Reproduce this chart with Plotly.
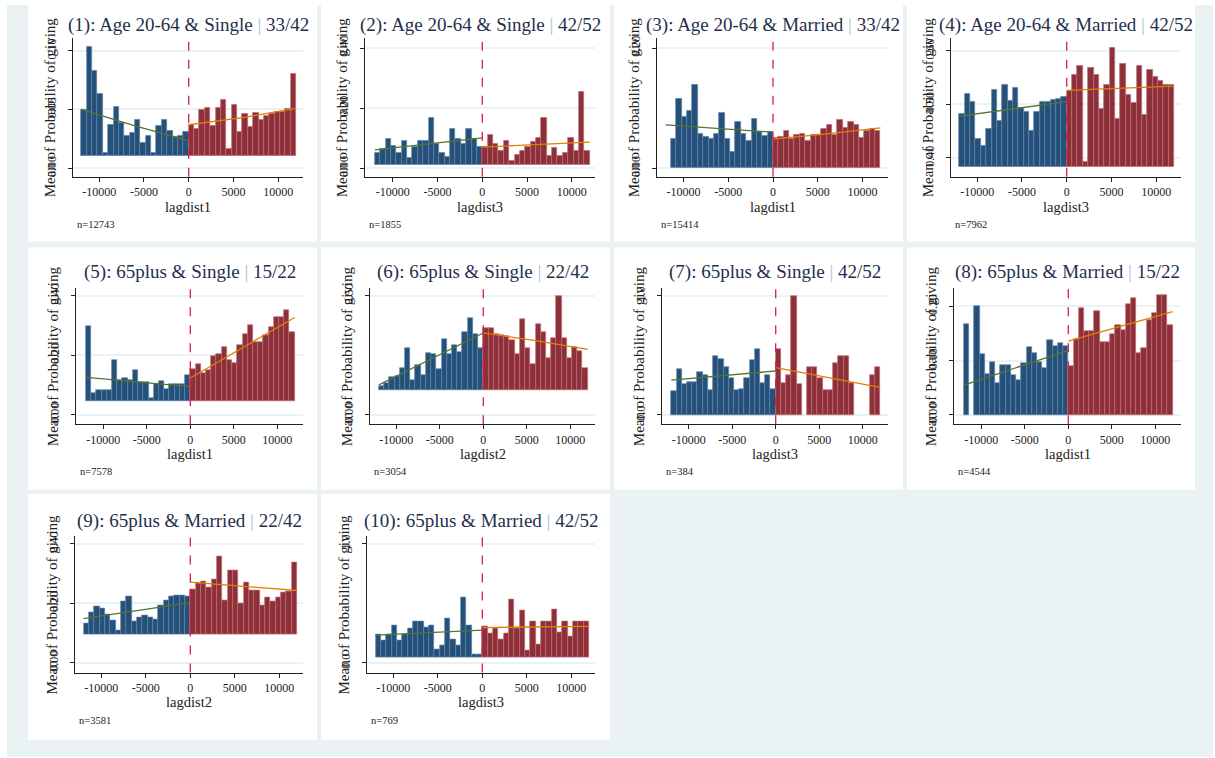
import numpy as np
import plotly.graph_objects as go

W, H = 1215, 758

# ---------------- data ----------------
bin_edges = np.arange(-12000, 12001, 600)
bin_centers = (bin_edges[:-1] + bin_edges[1:]) / 2
left_x = bin_centers[bin_centers < 0]
right_x = bin_centers[bin_centers > 0]
fit_x_left = [-12000, -6000, 0]
fit_x_right = [0, 6000, 12000]
x_tick_vals = [-10000, -5000, 0, 5000, 10000]
x_tick_text = ["-10000", "-5000", "0", "5000", "10000"]

titles = ["(1): Age 20-64 & Single", "(2): Age 20-64 & Single", "(3): Age 20-64 & Married",
          "(4): Age 20-64 & Married", "(5): 65plus & Single", "(6): 65plus & Single",
          "(7): 65plus & Single", "(8): 65plus & Married", "(9): 65plus & Married",
          "(10): 65plus & Married"]
title_suffix = ["33/42", "42/52", "33/42", "42/52", "15/22", "22/42", "42/52", "15/22", "22/42", "42/52"]
xvars = ["lagdist1", "lagdist3", "lagdist1", "lagdist3", "lagdist1", "lagdist2", "lagdist3",
         "lagdist1", "lagdist2", "lagdist3"]
n_obs = ["n=12743", "n=1855", "n=15414", "n=7962", "n=7578", "n=3054", "n=384", "n=4544",
         "n=3581", "n=769"]
ytick_vals = [[0, 0.05, 0.10], [0, 0.2, 0.4], [0, 0.2], [0.4, 0.5, 0.6], [0, 0.2, 0.4],
              [0, 0.5], [0, 1.0], [0, 0.1, 0.2], [0, 0.2, 0.4], [0, 1.0]]
ytick_text = [["0.00", "0.05", "0.10"], ["0.00", "0.20", "0.40"], ["0.00", "0.20"],
              ["0.40", "0.50", "0.60"], ["0.00", "0.20", "0.40"], ["0.00", "0.50"],
              ["0.0", "1.0"], ["0.00", "0.10", "0.20"], ["0.00", "0.20", "0.40"], ["0.0", "1.0"]]
bar_base = [0.0107, 0.012, 0.0, 0.383, 0.045, 0.104, 0.0, 0.0, 0.097, 0.047]

p1_left = [0.050, 0.103, 0.083, 0.063, 0.013, 0.037, 0.052, 0.039, 0.028, 0.030,
           0.041, 0.022, 0.028, 0.013, 0.036, 0.041, 0.032, 0.027, 0.028, 0.031]
p1_right = [0.037, 0.0335, 0.050, 0.0515, 0.036, 0.0515, 0.058, 0.0166, 0.054, 0.031,
            0.046, 0.035, 0.047, 0.041, 0.045, 0.046, 0.0476, 0.048, 0.051, 0.080]
p2_left = [0.050, 0.064, 0.097, 0.076, 0.050, 0.092, 0.034, 0.072, 0.092, 0.092,
           0.168, 0.081, 0.050, 0.039, 0.131, 0.098, 0.081, 0.131, 0.098, 0.070]
p2_right = [0.072, 0.111, 0.081, 0.059, 0.092, 0.026, 0.046, 0.059, 0.072, 0.087,
            0.101, 0.168, 0.042, 0.068, 0.042, 0.053, 0.101, 0.059, 0.253, 0.057]
p3_left = [0.0, 0.0485, 0.116, 0.085, 0.095, 0.138, 0.058, 0.053, 0.0485, 0.058,
           0.093, 0.0485, 0.028, 0.078, 0.058, 0.046, 0.083, 0.060, 0.054, 0.060]
p3_right = [0.050, 0.052, 0.062, 0.0485, 0.056, 0.057, 0.046, 0.056, 0.056, 0.065,
            0.073, 0.055, 0.080, 0.068, 0.078, 0.072, 0.050, 0.062, 0.065, 0.062]
p4_left = [0.483, 0.520, 0.505, 0.435, 0.423, 0.454, 0.528, 0.470, 0.536, 0.507,
           0.531, 0.494, 0.486, 0.451, 0.486, 0.505, 0.505, 0.509, 0.511, 0.514]
p4_right = [0.526, 0.556, 0.572, 0.392, 0.568, 0.556, 0.491, 0.536, 0.606, 0.474,
            0.575, 0.517, 0.502, 0.572, 0.480, 0.564, 0.551, 0.543, 0.537, 0.536]
p5_left = [0.297, 0.074, 0.082, 0.082, 0.082, 0.184, 0.117, 0.124, 0.117, 0.149,
           0.110, 0.110, 0.057, 0.104, 0.113, 0.087, 0.104, 0.102, 0.104, 0.134]
p5_right = [0.154, 0.169, 0.140, 0.149, 0.199, 0.204, 0.227, 0.184, 0.173, 0.236,
            0.272, 0.303, 0.244, 0.246, 0.269, 0.296, 0.327, 0.327, 0.352, 0.277]
p6_left = [0.122, 0.132, 0.157, 0.164, 0.196, 0.279, 0.146, 0.210, 0.168, 0.261,
           0.254, 0.192, 0.317, 0.254, 0.293, 0.265, 0.349, 0.407, 0.338, 0.279]
p6_right = [0.363, 0.363, 0.340, 0.335, 0.331, 0.313, 0.257, 0.400, 0.282, 0.215,
            0.382, 0.349, 0.238, 0.321, 0.500, 0.321, 0.238, 0.285, 0.268, 0.196]
p7_left = [0.197, 0.383, 0.258, 0.272, 0.272, 0.356, 0.336, 0.208, 0.494, 0.472,
           0.403, 0.306, 0.208, 0.217, 0.306, 0.458, 0.550, 0.264, 0.336, 0.217]
p7_right = [0.550, 0.264, 0.336, 1.000, 0.258, 0.0, 0.403, 0.403, 0.308, 0.208,
            0.208, 0.439, 0.494, 0.494, 0.264, 0.0, 0.0, 0.0, 0.336, 0.403]
p8_left = [0.168, 0.0, 0.201, 0.112, 0.075, 0.098, 0.059, 0.092, 0.092, 0.074,
           0.065, 0.095, 0.124, 0.113, 0.098, 0.087, 0.137, 0.126, 0.133, 0.126]
p8_right = [0.090, 0.139, 0.197, 0.154, 0.154, 0.191, 0.135, 0.135, 0.148, 0.165,
            0.157, 0.204, 0.215, 0.113, 0.123, 0.174, 0.188, 0.220, 0.220, 0.165]
p9_left = [0.132, 0.169, 0.189, 0.183, 0.161, 0.141, 0.108, 0.206, 0.224, 0.139,
           0.154, 0.158, 0.154, 0.147, 0.194, 0.208, 0.224, 0.228, 0.228, 0.224]
p9_right = [0.247, 0.266, 0.274, 0.254, 0.280, 0.356, 0.210, 0.310, 0.310, 0.199,
            0.269, 0.243, 0.243, 0.194, 0.221, 0.206, 0.221, 0.236, 0.241, 0.336]
p10_left = [0.236, 0.186, 0.242, 0.311, 0.186, 0.236, 0.292, 0.347, 0.347, 0.297,
            0.311, 0.117, 0.144, 0.375, 0.200, 0.144, 0.553, 0.311, 0.067, 0.067]
p10_right = [0.303, 0.247, 0.292, 0.200, 0.247, 0.533, 0.292, 0.442, 0.108, 0.347,
             0.158, 0.347, 0.347, 0.450, 0.256, 0.347, 0.225, 0.347, 0.347, 0.347]

p1_green, p1_orange = [0.050, 0.036, 0.0235], [0.037, 0.043, 0.051]
p2_green, p2_orange = [0.061, 0.081, 0.101], [0.070, 0.078, 0.087]
p3_green, p3_orange = [0.072, 0.066, 0.060], [0.0485, 0.057, 0.067]
p4_green, p4_orange = [0.478, 0.491, 0.505], [0.526, 0.530, 0.534]
p5_green, p5_orange = [0.126, 0.110, 0.095], [0.124, 0.226, 0.327]
p6_green, p6_orange = [0.126, 0.235, 0.344], [0.344, 0.312, 0.275]
p7_green, p7_orange = [0.292, 0.330, 0.369], [0.397, 0.314, 0.231]
p8_green, p8_orange = [0.055, 0.087, 0.119], [0.136, 0.163, 0.190]
p9_green, p9_orange = [0.149, 0.175, 0.202], [0.271, 0.257, 0.243]
p10_green, p10_orange = [0.233, 0.254, 0.275], [0.297, 0.301, 0.306]

lefts = [p1_left, p2_left, p3_left, p4_left, p5_left, p6_left, p7_left, p8_left, p9_left, p10_left]
rights = [p1_right, p2_right, p3_right, p4_right, p5_right, p6_right, p7_right, p8_right, p9_right, p10_right]
greens = [p1_green, p2_green, p3_green, p4_green, p5_green, p6_green, p7_green, p8_green, p9_green, p10_green]
oranges = [p1_orange, p2_orange, p3_orange, p4_orange, p5_orange, p6_orange, p7_orange, p8_orange, p9_orange, p10_orange]

# ---------------- layout geometry (pixels) ----------------
geom = [
    dict(L=73, R=303, T=33, B=173, x0=188.7, s=89.5, tp=(164.3, 46.0), ty=20),
    dict(L=365, R=595, T=33, B=173, x0=482.3, s=89.5, tp=(164.3, 43.3), ty=20),
    dict(L=657, R=888, T=33, B=173, x0=773.0, s=89.5, tp=(164.3, 43.3), ty=20),
    dict(L=951, R=1181, T=33, B=173, x0=1066.7, s=89.5, tp=(154.0, 46.0), ty=20),
    dict(L=76, R=303, T=285, B=422, x0=190.3, s=87.0, tp=(412.7, 292.7), ty=269),
    dict(L=370, R=595, T=285, B=422, x0=483.3, s=87.0, tp=(412.7, 292.7), ty=269),
    dict(L=662, R=888, T=285, B=422, x0=775.7, s=87.0, tp=(412.7, 292.7), ty=269),
    dict(L=954, R=1181, T=285, B=422, x0=1068.3, s=87.0, tp=(412.7, 303.3), ty=269),
    dict(L=75, R=303, T=535, B=672, x0=190.3, s=89.0, tp=(662.3, 542.3), ty=519),
    dict(L=367, R=595, T=535, B=672, x0=482.3, s=89.0, tp=(662.3, 542.3), ty=519),
]
panel_boxes = [
    (28, 0, 317, 238), (321, 0, 610, 238), (614, 0, 903, 238), (907, 0, 1195, 238),
    (28, 244, 317, 488), (321, 244, 610, 488), (614, 244, 903, 488), (907, 244, 1195, 488),
    (28, 492, 317, 740), (321, 492, 610, 740),
]

BLUE, BLUE_EDGE = "#24507a", "#5d82a6"
RED, RED_EDGE = "#8e3039", "#bb6a72"
GREEN, ORANGE = "#55752f", "#e37e00"
VLINE = "#d61f4b"
BG = "#eaf2f3"
GRID = "#eaf2f3"
FONT = "Liberation Serif"
TITLE_COL = "#1f2f4e"

fig = go.Figure()
shapes = []
annotations = []
layout = {}

shapes.append(dict(type="rect", xref="paper", yref="paper", x0=7 / W, x1=1213 / W, y0=1 - 757 / H, y1=1,
                   fillcolor=BG, line=dict(width=0), layer="below"))
for (x0, y0, x1, y1) in panel_boxes:
    shapes.append(dict(type="rect", xref="paper", yref="paper", x0=x0 / W, x1=x1 / W,
                       y0=1 - y1 / H, y1=1 - y0 / H, fillcolor="white", line=dict(width=0), layer="below"))


def bar_heights(vals, base):
    v = np.array(vals, dtype=float)
    h = v - base
    h[v <= 0] = np.nan  # empty bins draw nothing
    return h


for i in range(10):
    g = geom[i]
    k = i + 1
    xa = "x" if k == 1 else f"x{k}"
    ya = "y" if k == 1 else f"y{k}"
    base = bar_base[i]
    fig.add_trace(go.Bar(x=left_x, y=bar_heights(lefts[i], base), base=base, width=600,
                         marker=dict(color=BLUE, line=dict(color=BLUE_EDGE, width=0.7)),
                         xaxis=xa, yaxis=ya, showlegend=False, hoverinfo="skip"))
    fig.add_trace(go.Bar(x=right_x, y=bar_heights(rights[i], base), base=base, width=600,
                         marker=dict(color=RED, line=dict(color=RED_EDGE, width=0.7)),
                         xaxis=xa, yaxis=ya, showlegend=False, hoverinfo="skip"))
    fig.add_trace(go.Scatter(x=fit_x_left, y=greens[i], mode="lines", line=dict(color=GREEN, width=1.3),
                             xaxis=xa, yaxis=ya, showlegend=False, hoverinfo="skip"))
    fig.add_trace(go.Scatter(x=fit_x_right, y=oranges[i], mode="lines", line=dict(color=ORANGE, width=1.3),
                             xaxis=xa, yaxis=ya, showlegend=False, hoverinfo="skip"))

    yt = ytick_vals[i]
    p_lo, p_hi = g["tp"]
    kk = (yt[-1] - yt[0]) / (p_lo - p_hi)
    y_bot = yt[0] + (p_lo - g["B"]) * kk
    y_top = yt[0] + (p_lo - g["T"]) * kk
    x_min = (g["L"] - g["x0"]) / g["s"] * 10000
    x_max = (g["R"] - g["x0"]) / g["s"] * 10000

    layout["xaxis" if k == 1 else f"xaxis{k}"] = dict(
        domain=[g["L"] / W, g["R"] / W], range=[x_min, x_max], anchor=ya,
        tickvals=x_tick_vals, ticktext=x_tick_text, ticks="outside", ticklen=4, tickwidth=1,
        tickcolor="#222", showline=True, linecolor="#222", linewidth=1.3, showgrid=False,
        zeroline=False, tickfont=dict(family=FONT, size=12, color="#222"), fixedrange=True)
    layout["yaxis" if k == 1 else f"yaxis{k}"] = dict(
        domain=[1 - g["B"] / H, 1 - g["T"] / H], range=[y_bot, y_top], anchor=xa,
        tickvals=yt, ticktext=ytick_text[i], tickangle=-90, ticks="outside", ticklen=4,
        tickwidth=1, tickcolor="#222", showline=True, linecolor="#222", linewidth=1.3,
        showgrid=True, gridcolor=GRID, gridwidth=1.5, zeroline=False,
        ticklabelstandoff=7,
        tickfont=dict(family=FONT, size=12, color="#222"), fixedrange=True)

    # dashed cutoff line at 0
    shapes.append(dict(type="line", xref=xa, yref=f"{ya} domain", x0=0, x1=0, y0=0, y1=1,
                       line=dict(color=VLINE, width=1.3, dash="dash")))
    cx = (g["L"] + g["R"]) / 2
    annotations.append(dict(
        text=f"{titles[i]} <span style='color:#9cc3dc'>|</span> {title_suffix[i]}",
        xref="paper", yref="paper", x=cx / W, y=1 - g["ty"] / H, showarrow=False,
        xanchor="center", yanchor="middle", font=dict(family=FONT, size=19, color=TITLE_COL)))
    annotations.append(dict(
        text="Mean of Probability of giving", xref="paper", yref="paper",
        x=(g["L"] - 23) / W, y=1 - (g["T"] + g["B"]) / 2 / H, textangle=-90, showarrow=False,
        xanchor="center", yanchor="middle", font=dict(family=FONT, size=15, color="#222")))
    annotations.append(dict(
        text=xvars[i], xref="paper", yref="paper", x=cx / W, y=1 - (g["B"] + 30) / H,
        showarrow=False, xanchor="center", yanchor="middle",
        font=dict(family=FONT, size=14.5, color="#222")))
    annotations.append(dict(
        text=n_obs[i], xref="paper", yref="paper", x=(g["L"] + 2) / W, y=1 - (g["B"] + 48) / H,
        showarrow=False, xanchor="left", yanchor="middle",
        font=dict(family=FONT, size=10.5, color="#222")))

fig.update_layout(
    width=W, height=H, autosize=False, margin=dict(l=0, r=0, t=0, b=0),
    paper_bgcolor="white", plot_bgcolor="rgba(0,0,0,0)", bargap=0, barmode="overlay",
    shapes=shapes, annotations=annotations, **layout)

fig.write_html("out.html")
